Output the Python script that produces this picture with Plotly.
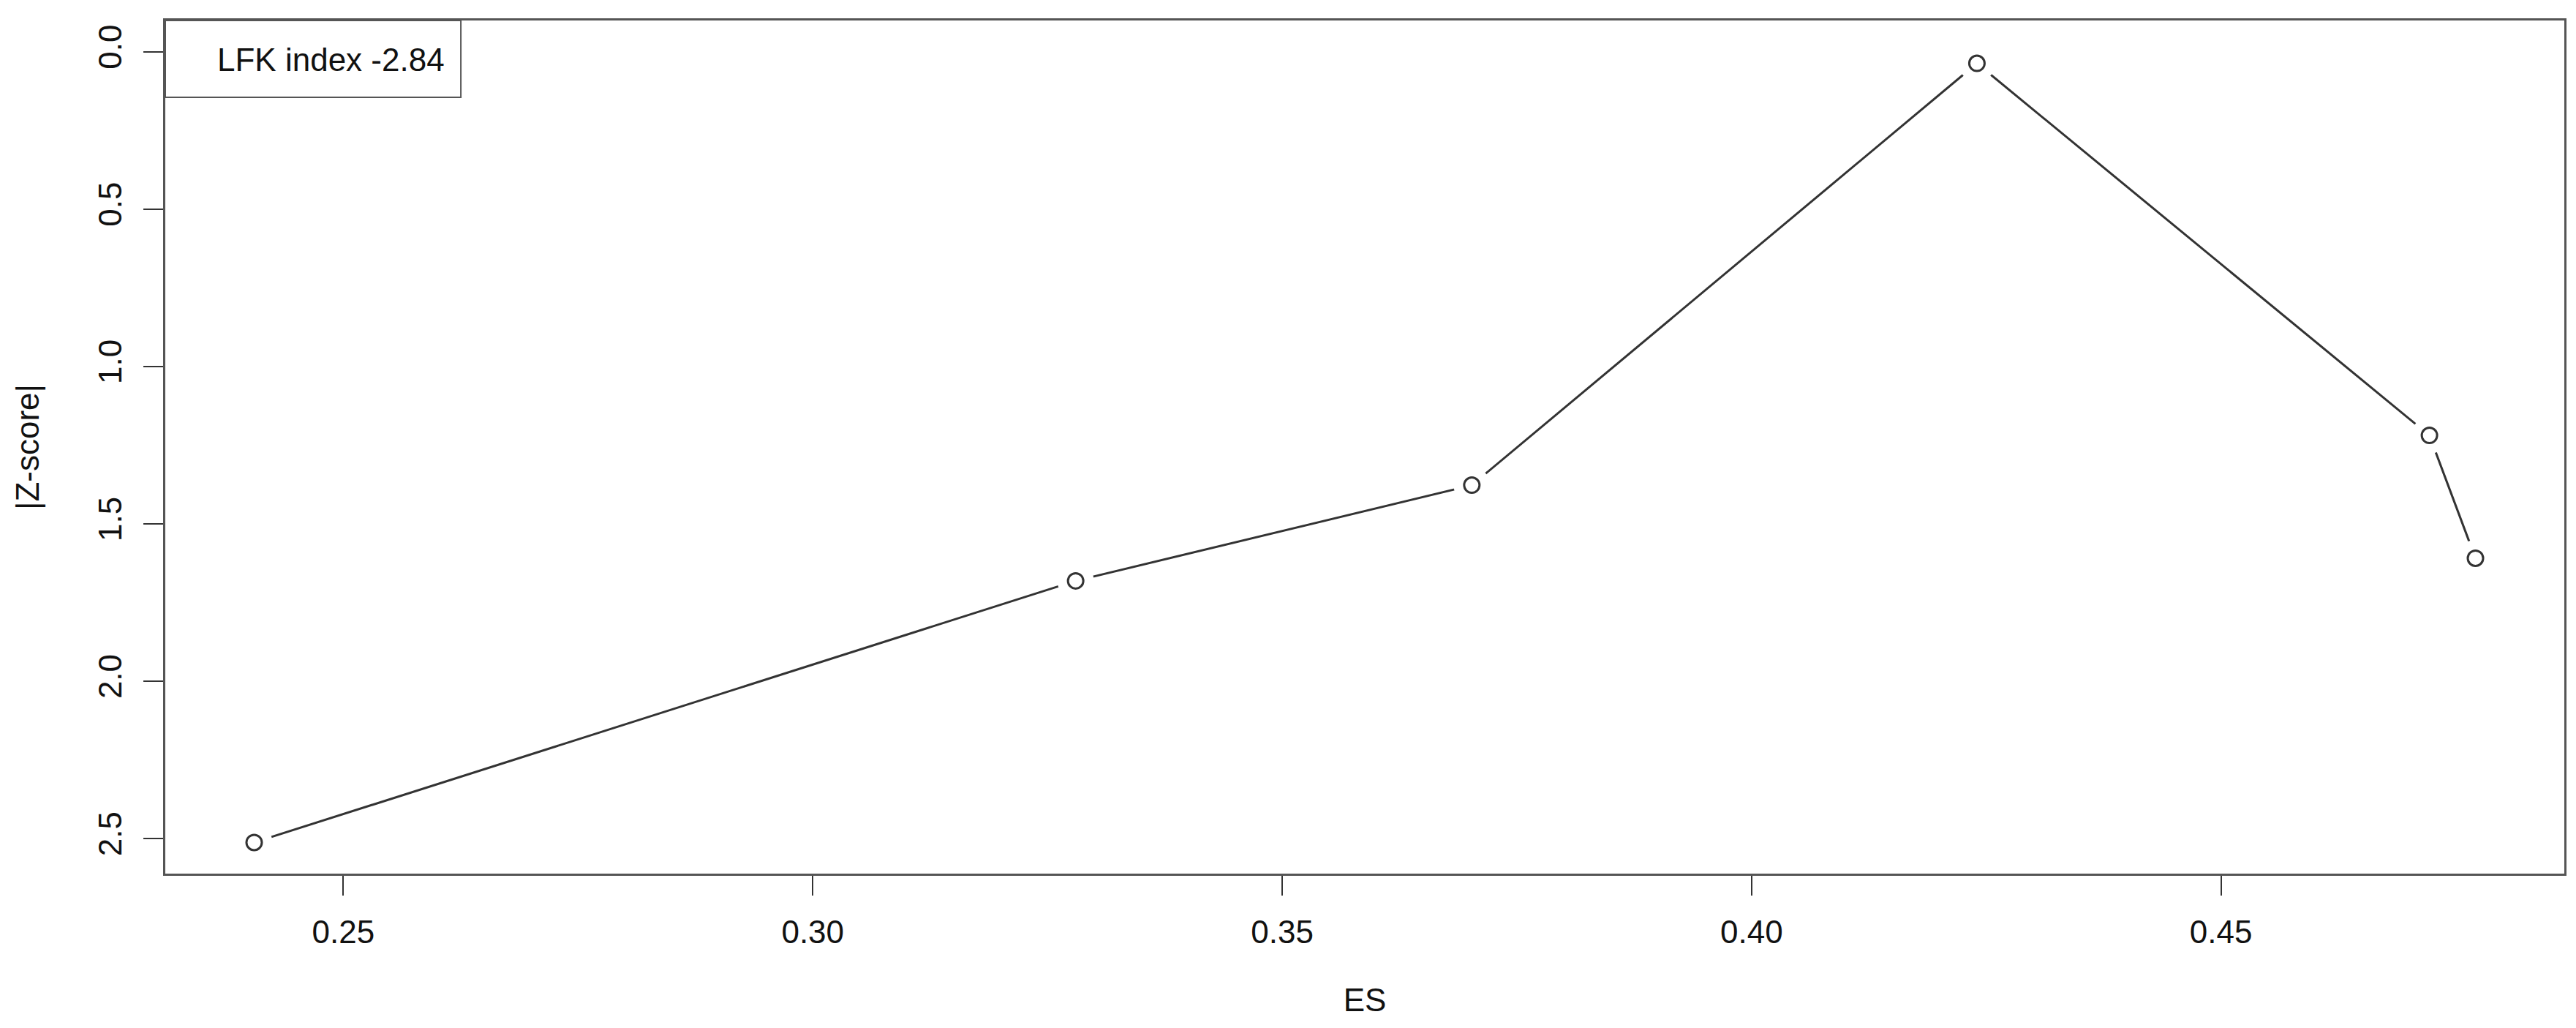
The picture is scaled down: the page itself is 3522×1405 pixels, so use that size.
import plotly.graph_objects as go

# Data
es = [0.2405, 0.328, 0.3702, 0.424, 0.4722, 0.4771]
zscore = [2.512, 1.681, 1.377, 0.037, 1.219, 1.609]
x_ticks = [0.25, 0.30, 0.35, 0.40, 0.45]
x_tick_labels = ["0.25", "0.30", "0.35", "0.40", "0.45"]
y_ticks = [0.0, 0.5, 1.0, 1.5, 2.0, 2.5]
y_tick_labels = ["0.0", "0.5", "1.0", "1.5", "2.0", "2.5"]
legend_text = "LFK index -2.84"

W, H = 3522, 1405
FONT = "Liberation Sans, Arial, sans-serif"
DARK = "#333333"
FRAME = "#555555"

# R-like 4% axis extension
xr = max(es) - min(es)
x_range = [min(es) - 0.04 * xr, max(es) + 0.04 * xr]
yr = max(zscore) - min(zscore)
y_range = [max(zscore) + 0.04 * yr, min(zscore) - 0.055 * yr]

fig = go.Figure()
fig.add_trace(go.Scatter(x=es, y=zscore, mode="lines",
                         line=dict(color=DARK, width=3), hoverinfo="skip",
                         showlegend=False))
# white halos to create R type="b" gaps
fig.add_trace(go.Scatter(x=es, y=zscore, mode="markers",
                         marker=dict(size=50, color="white", line=dict(width=0)),
                         hoverinfo="skip", showlegend=False))
fig.add_trace(go.Scatter(x=es, y=zscore, mode="markers",
                         marker=dict(size=21, color="white", symbol="circle",
                                     line=dict(color=DARK, width=3)),
                         showlegend=False))

axis_common = dict(showline=True, mirror=True, linecolor=FRAME, linewidth=3,
                   ticks="outside", ticklen=27, tickwidth=2, tickcolor=DARK,
                   showgrid=False, zeroline=False,
                   tickfont=dict(family=FONT, size=44, color="#111111"))

fig.update_layout(
    width=W, height=H,
    margin=dict(l=218, r=24, t=20, b=219),
    plot_bgcolor="white", paper_bgcolor="white",
    xaxis=dict(range=x_range, tickvals=x_ticks, ticktext=x_tick_labels,
               title=dict(text="ES", font=dict(family=FONT, size=44, color="#111111"),
                          standoff=55),
               ticklabelstandoff=12, **axis_common),
    yaxis=dict(range=y_range, tickvals=y_ticks, ticktext=y_tick_labels,
               tickangle=-90,
               title=dict(text="|Z-score|", font=dict(family=FONT, size=44, color="#111111"),
                          standoff=60),
               ticklabelstandoff=12, **axis_common),
)

# legend box (R legend)
fig.add_shape(type="rect", xref="paper", yref="paper",
              x0=0, x1=0.1232, y0=0.910, y1=1.0,
              line=dict(color=FRAME, width=2), fillcolor="white", layer="above")
fig.add_annotation(xref="paper", yref="paper", x=0.117, y=0.9537,
                   xanchor="right", yanchor="middle", showarrow=False,
                   text=legend_text, font=dict(family=FONT, size=44, color="#111111"))

fig.write_html("out.html")
